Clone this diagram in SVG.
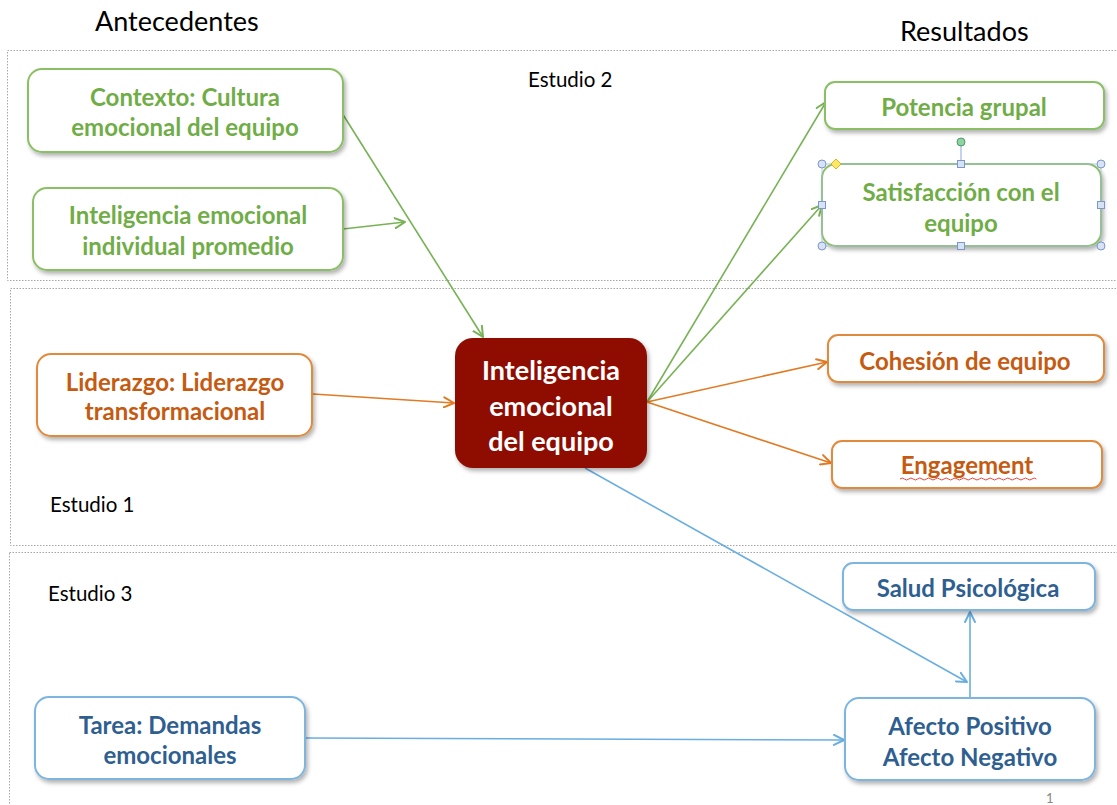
<svg xmlns="http://www.w3.org/2000/svg" width="1117" height="805" viewBox="0 0 1117 805">
<style>
.hdr{font-family:Lato,"Open Sans","Liberation Sans",sans-serif;font-size:27px;fill:#000}
.lbl{font-family:Lato,"Open Sans","Liberation Sans",sans-serif;font-size:20.5px;fill:#000}
.nt{font-family:Lato,"Open Sans","Liberation Sans",sans-serif;font-size:24px;font-weight:bold;text-anchor:middle}
.g rect{fill:#fff;stroke:#8BBF66;stroke-width:2}
.g text{fill:#70AD47}
.o rect{fill:#fff;stroke:#E08A3C;stroke-width:2}
.o text{fill:#C55A11}
.b rect{fill:#fff;stroke:#7DB5DF;stroke-width:2}
.b text{fill:#2F5F91}
.zone{fill:none;stroke:#A6A6A6;stroke-width:1;stroke-dasharray:1.5 1.5}
.cg{stroke:#77B255;stroke-width:1.6;fill:none}
.co{stroke:#E07B24;stroke-width:1.6;fill:none}
.cb{stroke:#6AAEE0;stroke-width:1.6;fill:none}
</style>
<defs>
<filter id="sh" x="-10%" y="-20%" width="130%" height="150%">
<feDropShadow dx="2" dy="3" stdDeviation="2" flood-color="#000" flood-opacity="0.3"/>
</filter>
<marker id="ag" viewBox="0 0 12 12" refX="11" refY="6" markerWidth="12" markerHeight="12" markerUnits="userSpaceOnUse" orient="auto">
<polyline points="1,1 11,6 1,11" fill="none" stroke="#77B255" stroke-width="2" stroke-linecap="round" stroke-linejoin="round"/>
</marker>
<marker id="ao" viewBox="0 0 12 12" refX="11" refY="6" markerWidth="12" markerHeight="12" markerUnits="userSpaceOnUse" orient="auto">
<polyline points="1,1 11,6 1,11" fill="none" stroke="#E07B24" stroke-width="2" stroke-linecap="round" stroke-linejoin="round"/>
</marker>
<marker id="ab" viewBox="0 0 12 12" refX="11" refY="6" markerWidth="12" markerHeight="12" markerUnits="userSpaceOnUse" orient="auto">
<polyline points="1,1 11,6 1,11" fill="none" stroke="#6AAEE0" stroke-width="2" stroke-linecap="round" stroke-linejoin="round"/>
</marker>
</defs>
<rect width="1117" height="805" fill="#fff"/>

<g id="zones">
<rect class="zone" x="7.5" y="50.5" width="1120" height="230"/>
<rect class="zone" x="10.5" y="288.5" width="1120" height="257"/>
<rect class="zone" x="9.5" y="552.5" width="1120" height="270"/>
</g>

<g id="labels">
<text class="hdr" x="95" y="31">Antecedentes</text>
<text class="hdr" x="900" y="41">Resultados</text>
<text class="lbl" x="528" y="87">Estudio 2</text>
<text class="lbl" x="50" y="512">Estudio 1</text>
<text class="lbl" x="48" y="601">Estudio 3</text>
<text x="1046" y="803" style="font-family:Lato,'Liberation Sans',sans-serif;font-size:13px;fill:#888">1</text>
</g>

<g id="connectors">
<line class="cg" x1="342" y1="113" x2="483" y2="337" marker-end="url(#ag)"/>
<line class="cg" x1="343" y1="229" x2="405" y2="222" marker-end="url(#ag)"/>
<line class="cg" x1="647" y1="402" x2="826" y2="102" marker-end="url(#ag)"/>
<line class="cg" x1="647" y1="402" x2="822" y2="205" marker-end="url(#ag)"/>
<line class="co" x1="313" y1="394" x2="454" y2="403" marker-end="url(#ao)"/>
<line class="co" x1="647" y1="402" x2="827" y2="362" marker-end="url(#ao)"/>
<line class="co" x1="647" y1="402" x2="831" y2="463" marker-end="url(#ao)"/>
<line class="cb" x1="585" y1="468" x2="967" y2="682" marker-end="url(#ab)"/>
<line class="cb" x1="970" y1="698" x2="970" y2="612" marker-end="url(#ab)"/>
<line class="cb" x1="305" y1="738" x2="844" y2="740" marker-end="url(#ab)"/>
</g>

<g id="n-contexto" class="g">
<rect x="28" y="69" width="315" height="83" rx="14" filter="url(#sh)"/>
<text class="nt" x="185" y="106">Contexto: Cultura</text>
<text class="nt" x="185" y="136">emocional del equipo</text>
</g>
<g id="n-individual" class="g">
<rect x="33" y="188" width="310" height="82" rx="14" filter="url(#sh)"/>
<text class="nt" x="188" y="224">Inteligencia emocional</text>
<text class="nt" x="188" y="255">individual promedio</text>
</g>
<g id="n-potencia" class="g">
<rect x="825" y="82" width="279" height="47" rx="10" filter="url(#sh)"/>
<text class="nt" x="964" y="116">Potencia grupal</text>
</g>
<g id="n-satisfaccion" class="g">
<rect x="822" y="164" width="279" height="82" rx="14" filter="url(#sh)"/>
<text class="nt" x="961" y="201">Satisfacción con el</text>
<text class="nt" x="961" y="232">equipo</text>
</g>
<g id="sel-handles">
<line x1="961" y1="145" x2="961" y2="164" stroke="#8AA8D8" stroke-width="1"/>
<rect x="822" y="164" width="279" height="82" fill="none" stroke="#A9C0E6" stroke-width="0.8"/>
<circle cx="961" cy="142" r="4" fill="#8FD3A0" stroke="#4E9A6A" stroke-width="1"/>
<g fill="#D6E2F5" stroke="#7E97C8" stroke-width="1">
<circle cx="822" cy="164" r="4"/><circle cx="1101" cy="164" r="4"/>
<circle cx="822" cy="246" r="4"/><circle cx="1101" cy="246" r="4"/>
<rect x="957.5" y="160.5" width="7" height="7"/><rect x="957.5" y="242.5" width="7" height="7"/>
<rect x="818.5" y="201.5" width="7" height="7"/><rect x="1097.5" y="201.5" width="7" height="7"/>
</g>
<polygon points="836,159 841,164 836,169 831,164" fill="#FFE866" stroke="#C9A800" stroke-width="0.8"/>
</g>
<g id="n-central">
<rect x="455" y="338" width="192" height="130" rx="18" fill="#8E1000" filter="url(#sh)"/>
<text class="nt" x="551" y="380" style="fill:#fff;font-size:27px">Inteligencia</text>
<text class="nt" x="551" y="416" style="fill:#fff;font-size:27px">emocional</text>
<text class="nt" x="551" y="451" style="fill:#fff;font-size:27px">del equipo</text>
</g>
<g id="n-liderazgo" class="o">
<rect x="37" y="354" width="275" height="82" rx="14" filter="url(#sh)"/>
<text class="nt" x="175" y="391">Liderazgo: Liderazgo</text>
<text class="nt" x="175" y="420">transformacional</text>
</g>
<g id="n-cohesion" class="o">
<rect x="828" y="335" width="276" height="47" rx="10" filter="url(#sh)"/>
<text class="nt" x="965" y="370">Cohesión de equipo</text>
</g>
<g id="n-engagement" class="o">
<rect x="832" y="441" width="270" height="47" rx="10" filter="url(#sh)"/>
<text class="nt" x="967" y="474">Engagement</text>
<path d="M900,479 q2.2,-2 4.4,0 t4.4,0 t4.4,0 t4.4,0 t4.4,0 t4.4,0 t4.4,0 t4.4,0 t4.4,0 t4.4,0 t4.4,0 t4.4,0 t4.4,0 t4.4,0 t4.4,0 t4.4,0 t4.4,0 t4.4,0 t4.4,0 t4.4,0 t4.4,0 t4.4,0 t4.4,0 t4.4,0 t4.4,0 t4.4,0 t4.4,0 t4.4,0 t4.4,0 t4.4,0 t4.4,0" fill="none" stroke="#E8473A" stroke-width="1"/>
</g>
<g id="n-salud" class="b">
<rect x="843" y="563" width="252" height="47" rx="10" filter="url(#sh)"/>
<text class="nt" x="968" y="597">Salud Psicológica</text>
</g>
<g id="n-afecto" class="b">
<rect x="845" y="698" width="250" height="82" rx="14" filter="url(#sh)"/>
<text class="nt" x="970" y="735">Afecto Positivo</text>
<text class="nt" x="970" y="766">Afecto Negativo</text>
</g>
<g id="n-tarea" class="b">
<rect x="35" y="697" width="270" height="82" rx="14" filter="url(#sh)"/>
<text class="nt" x="170" y="734">Tarea: Demandas</text>
<text class="nt" x="170" y="764">emocionales</text>
</g>
</svg>
